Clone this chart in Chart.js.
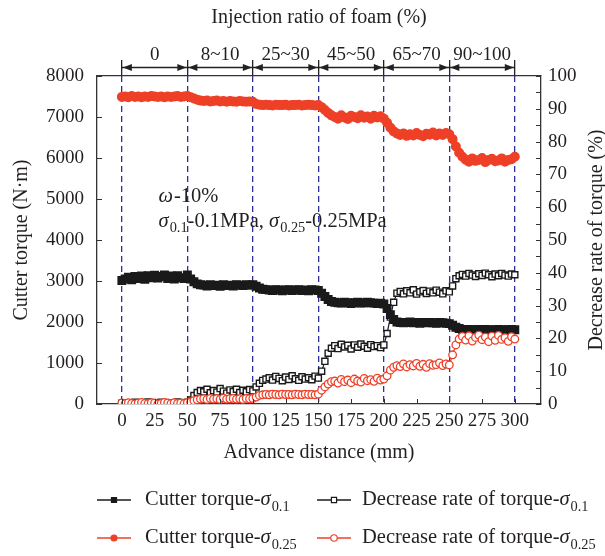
<!DOCTYPE html>
<html>
<head>
<meta charset="utf-8">
<script src="https://cdn.jsdelivr.net/npm/chart.js@4.4.0/dist/chart.umd.min.js"></script>
<style>
  html, body { margin: 0; padding: 0; background: #fff; }
</style>
</head>
<body>
<canvas id="torqueChart" width="605" height="556"></canvas>
<script>
// advance distance (mm), one reading every 2.5 mm
const distance = [
  0, 2.5, 5, 7.5, 10, 12.5, 15, 17.5, 20, 22.5, 25, 27.5, 30, 32.5, 35, 37.5, 40, 42.5, 45, 47.5,
  50, 52.5, 55, 57.5, 60, 62.5, 65, 67.5, 70, 72.5, 75, 77.5, 80, 82.5, 85, 87.5, 90, 92.5, 95, 97.5,
  100, 102.5, 105, 107.5, 110, 112.5, 115, 117.5, 120, 122.5, 125, 127.5, 130, 132.5, 135, 137.5, 140, 142.5, 145, 147.5,
  150, 152.5, 155, 157.5, 160, 162.5, 165, 167.5, 170, 172.5, 175, 177.5, 180, 182.5, 185, 187.5, 190, 192.5, 195, 197.5,
  200, 202.5, 205, 207.5, 210, 212.5, 215, 217.5, 220, 222.5, 225, 227.5, 230, 232.5, 235, 237.5, 240, 242.5, 245, 247.5,
  250, 252.5, 255, 257.5, 260, 262.5, 265, 267.5, 270, 272.5, 275, 277.5, 280, 282.5, 285, 287.5, 290, 292.5, 295, 297.5,
  300
];

// cutter torque (N·m), sigma 0.1 MPa
const torqueLow = [
  3010, 3050, 3090, 3030, 3110, 3060, 3120, 3040, 3130, 3080, 3140, 3070, 3110, 3150, 3060, 3120, 3050, 3130, 3080, 3060, 3150,
  3050, 2980, 2930, 2910, 2900, 2880, 2910, 2890, 2900, 2870, 2910, 2890, 2900, 2880, 2910, 2900, 2890, 2910, 2900, 2910,
  2870, 2830, 2800, 2790, 2780, 2770, 2790, 2780, 2760, 2780, 2790, 2770, 2780, 2790, 2770, 2780, 2760, 2790, 2780, 2770,
  2700, 2620, 2550, 2500, 2480, 2470, 2460, 2480, 2470, 2450, 2470, 2480, 2460, 2470, 2480, 2470, 2460, 2450, 2460, 2440,
  2330, 2180, 2060, 2000, 1990, 1980, 1990, 2000, 1980, 1990, 1970, 1990, 1980, 1990, 1980, 1970, 1990, 1980, 1970, 1960,
  1920, 1870, 1840, 1820, 1810, 1820, 1810, 1800, 1820, 1810, 1820, 1810, 1800, 1810, 1820, 1810, 1800, 1810, 1820, 1810
];

// cutter torque (N·m), sigma 0.25 MPa
const torqueHigh = [
  7490, 7500, 7480, 7510, 7490, 7500, 7480, 7500, 7490, 7510, 7500, 7490, 7500, 7480, 7500, 7490, 7500, 7510, 7490, 7500, 7510,
  7480, 7450, 7420, 7400, 7390, 7400, 7380, 7390, 7400, 7380, 7390, 7370, 7390, 7380, 7370, 7390, 7380, 7370, 7380, 7370,
  7320, 7300, 7290, 7300, 7290, 7280, 7300, 7290, 7290, 7300, 7280, 7290, 7290, 7300, 7280, 7290, 7300, 7290, 7280, 7290,
  7240, 7170, 7100, 7040, 7000, 6960, 7040, 6990, 6950, 7030, 7000, 6970, 7040, 6980, 7010, 6960, 7030, 6990, 7020, 6960,
  6860, 6740, 6650, 6600, 6560, 6600, 6540, 6580, 6550, 6610, 6560, 6530, 6590, 6570, 6620, 6550, 6600, 6560, 6610, 6580,
  6460, 6280, 6130, 6030, 5960, 5910, 5990, 5930, 5950, 6000, 5900, 5950, 5980, 5920, 5940, 5990, 5910, 5950, 5970, 6030
];

// decrease rate of torque (%), sigma 0.1 MPa
const rateLow = [
  0.2, 0.4, 0.1, 0.3, 0.5, 0.2, 0.0, 0.3, 0.6, 0.1, 0.4, 0.2, 0.5, 0.3, 0.0, 0.4, 0.2, 0.6, 0.3, 0.1, 0.5,
  1.2, 2.6, 3.5, 4.1, 3.7, 4.5, 3.4, 4.1, 3.6, 4.7, 3.9, 3.3, 4.3, 3.8, 4.5, 3.5, 4.2, 3.7, 4.4, 4.0,
  5.2, 6.3, 7.2, 7.6, 8.0, 7.3, 8.4, 7.8, 7.1, 8.2, 7.5, 8.6, 7.7, 7.2, 8.3, 7.6, 8.0, 7.4, 8.5, 7.9,
  10.0, 13.0, 15.5, 17.0, 17.8, 16.9, 18.2, 17.4, 17.9, 16.8, 18.0, 17.3, 18.3, 17.6, 17.0, 18.1, 17.5, 17.8, 17.2, 18.0,
  21.5, 26.5, 31.0, 33.8, 34.3, 33.6, 34.5, 33.9, 34.8, 33.5, 34.2, 34.6, 33.7, 34.4, 33.9, 34.7, 34.1, 33.6, 34.5, 34.2,
  36.0, 38.2, 39.1, 39.5, 39.0, 39.8, 39.3, 38.9, 39.7, 39.2, 39.9, 39.4, 38.8, 39.6, 39.1, 39.8, 39.3, 39.0, 39.6, 39.4
];

// decrease rate of torque (%), sigma 0.25 MPa
const rateHigh = [
  0.3, 0.1, 0.4, 0.2, 0.0, 0.3, 0.5, 0.2, 0.1, 0.4, 0.3, 0.0, 0.2, 0.5, 0.3, 0.1, 0.4, 0.2, 0.3, 0.1, 0.4,
  0.6, 1.0, 1.3, 1.5, 1.6, 1.4, 1.7, 1.5, 1.6, 1.4, 1.8, 1.5, 1.6, 1.7, 1.5, 1.6, 1.4, 1.7, 1.6, 1.7,
  2.1, 2.6, 2.8, 2.9, 2.8, 3.0, 2.9, 2.8, 3.0, 2.9, 2.9, 2.8, 3.0, 2.9, 2.8, 3.0, 2.9, 2.9, 2.8, 3.0,
  4.2, 5.2, 6.1, 6.8, 7.0, 6.4, 7.5, 6.8, 7.3, 6.5, 7.6, 7.0, 6.7, 7.8, 7.1, 7.4, 6.9, 7.9, 7.3, 7.6,
  8.6, 10.3, 11.2, 11.7, 11.4, 12.2, 11.3, 12.0, 11.6, 12.4, 11.5, 12.1, 11.2, 12.3, 11.8, 12.0, 12.5, 11.7, 12.2, 11.9,
  15.0, 18.0, 19.8, 20.6, 19.5, 20.8, 19.2, 20.3, 21.0, 19.6, 20.4, 19.0, 20.7, 19.4, 20.9, 19.7, 20.2, 19.1, 20.5, 19.8
];

// foam injection stages along the top axis
const stageBounds = [0, 50, 100, 150, 200, 250, 300];
const stageLabels = ["0", "8~10", "25~30", "45~50", "65~70", "90~100"];
const stageMids = [25, 75, 125, 175, 225, 275];
const distanceTicks = [0, 25, 50, 75, 100, 125, 150, 175, 200, 225, 250, 275, 300];

const FONT = '"Liberation Serif", "Times New Roman", serif';
const TEXT = "#231f20";
const BLACK = "#1a1a1a";
const RED = "#ee4027";
const BLUE = "#2e2e9c";

const toPoints = (ys) => ys.map((y, i) => ({ x: distance[i], y }));

// legend entries, text split so sigma and subscripts can be styled
const legendEntries = [
  { ds: 0, parts: [["Cutter torque-"], ["σ", "i"], ["0.1", "s"]] },
  { ds: 1, parts: [["Decrease rate of torque-"], ["σ", "i"], ["0.1", "s"]] },
  { ds: 2, parts: [["Cutter torque-"], ["σ", "i"], ["0.25", "s"]] },
  { ds: 3, parts: [["Decrease rate of torque-"], ["σ", "i"], ["0.25", "s"]] },
];

function drawRich(ctx, parts, x, y, size) {
  ctx.textBaseline = "middle";
  ctx.textAlign = "left";
  ctx.fillStyle = TEXT;
  parts.forEach(([text, style]) => {
    const sub = style === "s";
    ctx.font = (style === "i" ? "italic " : "") + (sub ? size * 0.7 : size) + "px " + FONT;
    ctx.fillText(text, x, y + (sub ? size * 0.33 : 0));
    x += ctx.measureText(text).width + (style === "i" ? 1 : 0);
  });
}

function drawMarker(ctx, ds, x, y) {
  ctx.save();
  ctx.lineWidth = 1.2;
  ctx.strokeStyle = ds.borderColor;
  ctx.fillStyle = ds.pointBackgroundColor;
  ctx.beginPath();
  const r = ds.pointRadius * 0.85;
  if (ds.pointStyle === "rect") {
    const s = r * Math.SQRT1_2;
    ctx.rect(x - s, y - s, 2 * s, 2 * s);
  } else {
    ctx.arc(x, y, r, 0, Math.PI * 2);
  }
  ctx.fill();
  ctx.stroke();
  ctx.restore();
}

const extrasPlugin = {
  id: "extras",
  afterDraw(chart) {
    const { ctx, chartArea, scales } = chart;
    const xs = scales.x;
    ctx.save();

    // inward tick marks
    ctx.strokeStyle = "#333";
    ctx.lineWidth = 1;
    ctx.beginPath();
    distanceTicks.forEach((v) => {
      const px = Math.round(xs.getPixelForValue(v)) + 0.5;
      ctx.moveTo(px, chartArea.bottom);
      ctx.lineTo(px, chartArea.bottom - 5);
    });
    scales.y.ticks.forEach((t) => {
      const py = Math.round(scales.y.getPixelForValue(t.value)) + 0.5;
      ctx.moveTo(chartArea.left, py);
      ctx.lineTo(chartArea.left + 5, py);
    });
    for (let v = 0; v <= 100; v += 5) {
      const py = Math.round(scales.y2.getPixelForValue(v)) + 0.5;
      ctx.moveTo(chartArea.right, py);
      ctx.lineTo(chartArea.right - 5, py);
    }
    ctx.stroke();

    // dimension arrows for each foam stage
    const ay = chartArea.top - 8.5;
    ctx.strokeStyle = "#222";
    ctx.fillStyle = "#222";
    ctx.lineWidth = 1.3;
    for (let i = 0; i < stageBounds.length - 1; i++) {
      const a = xs.getPixelForValue(stageBounds[i]);
      const b = xs.getPixelForValue(stageBounds[i + 1]);
      ctx.beginPath();
      ctx.moveTo(a, ay);
      ctx.lineTo(b, ay);
      ctx.stroke();
      ctx.beginPath();
      ctx.moveTo(a + 1, ay);
      ctx.lineTo(a + 10, ay - 3.5);
      ctx.lineTo(a + 10, ay + 3.5);
      ctx.closePath();
      ctx.moveTo(b - 1, ay);
      ctx.lineTo(b - 10, ay - 3.5);
      ctx.lineTo(b - 10, ay + 3.5);
      ctx.closePath();
      ctx.fill();
    }

    // right axis title, reading bottom to top like the left one
    ctx.save();
    ctx.translate(597, (chartArea.top + chartArea.bottom) / 2);
    ctx.rotate(-Math.PI / 2);
    ctx.font = "20px " + FONT;
    ctx.fillStyle = TEXT;
    ctx.textAlign = "center";
    ctx.textBaseline = "middle";
    ctx.fillText("Decrease rate of torque (%)", 0, 0);
    ctx.restore();

    // test conditions note
    const nx = xs.getPixelForValue(28);
    drawRich(ctx, [["ω", "i"], ["-10%"]], nx, scales.y.getPixelForValue(5050), 20.5);
    drawRich(ctx, [["σ", "i"], ["0.1", "s"], ["-0.1MPa, "], ["σ", "i"], ["0.25", "s"], ["-0.25MPa"]],
      nx, scales.y.getPixelForValue(4440), 20.5);

    // legend, two columns
    const colX = [97, 317];
    const textGap = [48, 45];
    const rowY = [500, 538];
    legendEntries.forEach((entry, k) => {
      const ds = chart.data.datasets[entry.ds];
      const lx = colX[k % 2];
      const ly = rowY[Math.floor(k / 2)];
      ctx.strokeStyle = ds.borderColor;
      ctx.lineWidth = 1.5;
      ctx.beginPath();
      ctx.moveTo(lx, ly);
      ctx.lineTo(lx + 34, ly);
      ctx.stroke();
      drawMarker(ctx, ds, lx + 17, ly);
      drawRich(ctx, entry.parts, lx + textGap[k % 2], ly, 20.5);
    });
    ctx.restore();
  },
};

const tickFont = { family: FONT, size: 19 };
const titleFont = { family: FONT, size: 20 };

const chart = new Chart(document.getElementById("torqueChart"), {
  type: "line",
  data: {
    datasets: [
      {
        label: "Cutter torque-σ0.1",
        data: toPoints(torqueLow),
        yAxisID: "y",
        order: 2,
        borderColor: BLACK,
        backgroundColor: BLACK,
        pointBackgroundColor: BLACK,
        pointStyle: "rect",
        pointRadius: 4.2,
        borderWidth: 3,
      },
      {
        label: "Decrease rate of torque-σ0.1",
        data: toPoints(rateLow),
        yAxisID: "y2",
        order: 3,
        borderColor: BLACK,
        backgroundColor: "#fff",
        pointBackgroundColor: "#fff",
        pointStyle: "rect",
        pointRadius: 4.3,
        pointBorderWidth: 1.4,
        borderWidth: 1.2,
      },
      {
        label: "Cutter torque-σ0.25",
        data: toPoints(torqueHigh),
        yAxisID: "y",
        order: 1,
        borderColor: RED,
        backgroundColor: RED,
        pointBackgroundColor: RED,
        pointStyle: "circle",
        pointRadius: 3.5,
        borderWidth: 3,
      },
      {
        label: "Decrease rate of torque-σ0.25",
        data: toPoints(rateHigh),
        yAxisID: "y2",
        order: 0,
        borderColor: RED,
        backgroundColor: "#fff",
        pointBackgroundColor: "#fff",
        pointStyle: "circle",
        pointRadius: 3.8,
        pointBorderWidth: 1.3,
        borderWidth: 1.2,
      },
    ],
  },
  options: {
    responsive: false,
    animation: false,
    layout: { padding: { left: 0, right: 0, top: 0, bottom: 89 } },
    plugins: { legend: { display: false }, tooltip: { enabled: false } },
    scales: {
      x: {
        type: "linear",
        position: "bottom",
        min: -19,
        max: 320,
        afterBuildTicks: (s) => { s.ticks = distanceTicks.map((v) => ({ value: v })); },
        afterFit: (s) => { s.height = 63; },
        ticks: { font: tickFont, color: TEXT, padding: 6, autoSkip: false, maxRotation: 0 },
        grid: {
          drawTicks: false,
          color: (c) => (stageBounds.includes(c.tick.value) ? BLUE : "transparent"),
          lineWidth: 1.3,
        },
        border: { color: "#333", width: 1.3, dash: [6, 4] },
        title: { display: true, text: "Advance distance (mm)", font: titleFont, color: TEXT, padding: { bottom: 2 } },
      },
      x2: {
        type: "linear",
        position: "top",
        min: -19,
        max: 320,
        afterBuildTicks: (s) => {
          s.ticks = stageBounds.concat(stageMids).sort((a, b) => a - b).map((v) => ({ value: v }));
        },
        afterFit: (s) => { s.height = 76; },
        ticks: {
          font: tickFont,
          color: TEXT,
          padding: -6,
          autoSkip: false,
          maxRotation: 0,
          callback: (v) => {
            const k = stageMids.indexOf(v);
            return k >= 0 ? stageLabels[k] : "";
          },
        },
        grid: {
          drawOnChartArea: false,
          tickLength: 16,
          lineWidth: 1.3,
          tickColor: (c) => (stageBounds.includes(c.tick.value) ? "#222" : "transparent"),
        },
        border: { color: "#333", width: 1.3 },
        title: { display: true, text: "Injection ratio of foam (%)", font: titleFont, color: TEXT, padding: { top: 6 } },
      },
      y: {
        position: "left",
        min: 0,
        max: 8000,
        afterFit: (s) => { s.width = 97; },
        ticks: { stepSize: 500, font: tickFont, color: TEXT, padding: 13, callback: (v) => String(v) },
        grid: { drawOnChartArea: false, drawTicks: false },
        border: { color: "#333", width: 1.3 },
        title: { display: true, text: "Cutter torque (N·m)", font: titleFont, color: TEXT, padding: { top: 10 } },
      },
      y2: {
        position: "right",
        min: 0,
        max: 100,
        afterFit: (s) => { s.width = 64; },
        ticks: { stepSize: 10, font: tickFont, color: TEXT, padding: 7, callback: (v) => String(v) },
        grid: { drawOnChartArea: false, drawTicks: false },
        border: { color: "#333", width: 1.3 },
      },
    },
  },
  plugins: [extrasPlugin],
});
</script>
</body>
</html>
